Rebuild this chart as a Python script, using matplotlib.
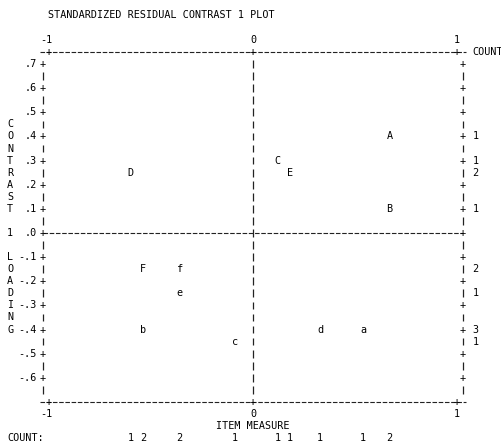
import numpy as np
import matplotlib
matplotlib.use("Agg")
import matplotlib.pyplot as plt

# Item positions: measure (x) vs contrast loading (y)
items = ['A', 'B', 'C', 'D', 'E', 'F', 'a', 'b', 'c', 'd', 'e', 'f']
measure = [0.67, 0.67, 0.12, -0.60, 0.18, -0.54, 0.54, -0.54, -0.09, 0.33, -0.36, -0.36]
loading = [0.40, 0.10, 0.30, 0.25, 0.25, -0.15, -0.40, -0.40, -0.45, -0.40, -0.25, -0.15]

y_ticks = [0.7, 0.6, 0.5, 0.4, 0.3, 0.2, 0.1, 0.0, -0.1, -0.2, -0.3, -0.4, -0.5, -0.6]
y_tick_labels = ['.7', '.6', '.5', '.4', '.3', '.2', '.1', '.0',
                 '-.1', '-.2', '-.3', '-.4', '-.5', '-.6']
x_ticks = [-1, 0, 1]
x_tick_labels = ['-1', '0', '1']

title = 'STANDARDIZED RESIDUAL CONTRAST 1 PLOT'
y_title = 'CONTRAST 1 LOADING'
x_title = 'ITEM MEASURE'

mono = 'DejaVu Sans Mono'
fs = 7.3
row = 0.05

fig = plt.figure(figsize=(5.02, 4.46), dpi=100)
ax = fig.add_axes([0, 0, 1, 1])
ax.set_xlim(-253 / 204, 249 / 204)
ax.set_ylim(-213 / 241.4, 233 / 241.4)
ax.axis('off')


def txt(x, y, s, ha='center'):
    ax.text(x, y, s, ha=ha, va='center', family=mono, fontsize=fs, color='black')


def bar(x, y):
    # an ASCII "|" : short vertical stroke inside one text row
    ax.plot([x, x], [y - 0.016, y + 0.016], color='#222222', lw=0.9,
            solid_capstyle='butt')


dash = dict(color='#222222', lw=0.8, ls=(0, (4.1, 1.5)))

# title
txt(-1.005, 0.903, title, ha='left')

# top and bottom borders
top, bottom = 0.75, -0.70
for yb, ylab in [(top, top + row), (bottom, bottom - row)]:
    ax.plot([-1.044, 1.045], [yb, yb], **dash)
    for xt, lab in zip(x_ticks, x_tick_labels):
        txt(xt, yb, '+')
        if lab.startswith('-'):
            txt(xt + 0.016, ylab, lab, ha='right')
        else:
            txt(xt, ylab, lab)
txt(1.075, top, 'COUNT', ha='left')

# zero line
ax.plot([-1.03, 1.03], [0, 0], **dash)

# vertical axes made of | and +
rows = np.round(np.arange(0.70, -0.651, -row), 2)
for r in rows:
    major = abs(round(r * 10) - r * 10) < 1e-6
    for xa in (-1.03, 1.03):
        if major:
            txt(xa, r, '+')
        else:
            bar(xa, r)
    bar(0, r)

# left tick labels
for yt, lab in zip(y_ticks, y_tick_labels):
    txt(-1.06, yt, lab, ha='right')

# vertical axis title
for i, ch in enumerate(y_title):
    if ch != ' ':
        txt(-1.19, 0.45 - i * row, ch)

# item letters
for it, x, y in zip(items, measure, loading):
    txt(x, y, it)

# counts on the right (per row) and at the bottom (per column)
ys, ycounts = np.unique(loading, return_counts=True)
for y, n in zip(ys, ycounts):
    txt(1.09, y, str(n))
xs, xcounts = np.unique(measure, return_counts=True)
for x, n in zip(xs, xcounts):
    txt(x, -0.85, str(n))

txt(0, -0.80, x_title)
txt(-1.205, -0.85, 'COUNT:', ha='left')

fig.savefig('out.png', dpi=100)
